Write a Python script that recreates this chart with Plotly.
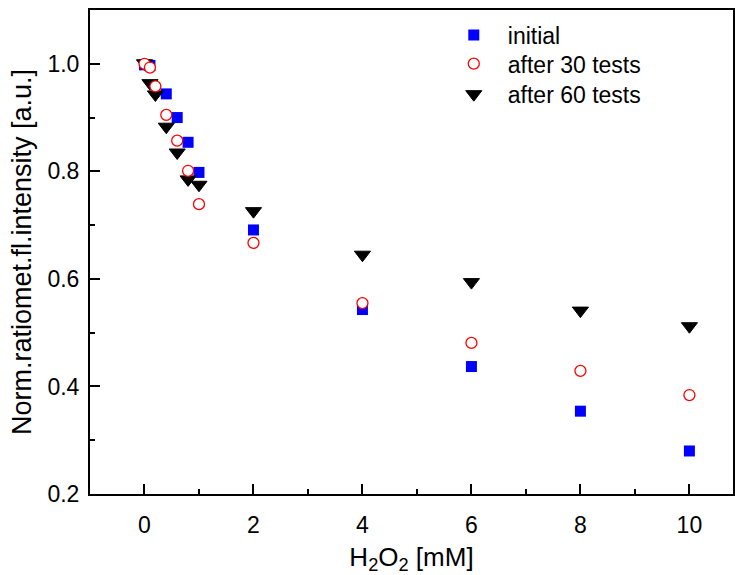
import plotly.graph_objects as go

# data
x_initial = [0, 0.1, 0.4, 0.6, 0.8, 1, 2, 4, 6, 8, 10]
y_initial = [0.998, 0.997, 0.944, 0.900, 0.854, 0.798, 0.691, 0.543, 0.437, 0.354, 0.280]

x_30 = [0, 0.1, 0.2, 0.4, 0.6, 0.8, 1, 2, 4, 6, 8, 10]
y_30 = [1.0, 0.993, 0.958, 0.905, 0.857, 0.801, 0.739, 0.667, 0.555, 0.481, 0.429, 0.384]

x_60 = [0, 0.1, 0.2, 0.4, 0.6, 0.8, 1, 2, 4, 6, 8, 10]
y_60 = [1.001, 0.964, 0.943, 0.883, 0.835, 0.785, 0.775, 0.726, 0.645, 0.594, 0.541, 0.512]

x_ticks = [0, 2, 4, 6, 8, 10]
y_ticks = [0.2, 0.4, 0.6, 0.8, 1.0]

FONT = "Liberation Sans, Arial, sans-serif"

fig = go.Figure()
fig.add_trace(go.Scatter(
    x=x_initial, y=y_initial, mode="markers", name="initial", legend="legend",
    marker=dict(symbol="square", size=11, color="#0000ff", line=dict(width=0)),
))
fig.add_trace(go.Scatter(
    x=x_60, y=y_60, mode="markers", name="after 60 tests", legend="legend3",
    marker=dict(symbol="triangle-down", size=14, color="#000000",
                line=dict(width=1, color="#000000")),
))
fig.add_trace(go.Scatter(
    x=x_30, y=y_30, mode="markers", name="after 30 tests", legend="legend2",
    marker=dict(symbol="circle", size=11, color="#ffffff",
                line=dict(width=1.3, color="#ff0000")),
))

axis_common = dict(
    showgrid=False, zeroline=False, showline=True, linecolor="#000000",
    linewidth=2, mirror=True, ticks="inside", tickcolor="#000000",
    tickwidth=2, ticklen=10, automargin=False,
    tickfont=dict(family=FONT, size=23, color="#000000"),
)

fig.update_xaxes(
    **axis_common,
    range=[-1, 10.8], tickvals=x_ticks, ticktext=[str(v) for v in x_ticks],
    ticklabelstandoff=9,
    minor=dict(dtick=1, tick0=1, ticks="inside", ticklen=5, tickwidth=2,
               tickcolor="#000000", showgrid=False),
    title=dict(text="H<sub>2</sub>O<sub>2</sub> [mM]", standoff=13,
               font=dict(family=FONT, size=26, color="#000000")),
)
fig.update_yaxes(
    **axis_common,
    range=[0.2, 1.1], tickvals=y_ticks, ticktext=[f"{v:.1f}" for v in y_ticks],
    ticklabelstandoff=4,
    minor=dict(dtick=0.1, tick0=0.1, ticks="inside", ticklen=5, tickwidth=2,
               tickcolor="#000000", showgrid=False),
    title=dict(text="Norm.ratiomet.fl.intensity [a.u.]", standoff=8,
               font=dict(family=FONT, size=27, color="#000000")),
)

leg_common = dict(xanchor="left", yanchor="middle", x=0.544,
                  bgcolor="rgba(0,0,0,0)", itemwidth=58,
                  font=dict(family=FONT, size=23, color="#000000"))

fig.update_layout(
    width=735, height=575,
    margin=dict(l=90, r=2, t=10, b=81),
    paper_bgcolor="#ffffff", plot_bgcolor="#ffffff",
    showlegend=True,
    legend=dict(**leg_common, y=0.948),
    legend2=dict(**leg_common, y=0.889),
    legend3=dict(**leg_common, y=0.826),
)

fig.write_html(
    "out.html",
    config={"displayModeBar": False},
    post_script="document.body.style.margin='0';document.body.style.overflow='hidden';",
)
